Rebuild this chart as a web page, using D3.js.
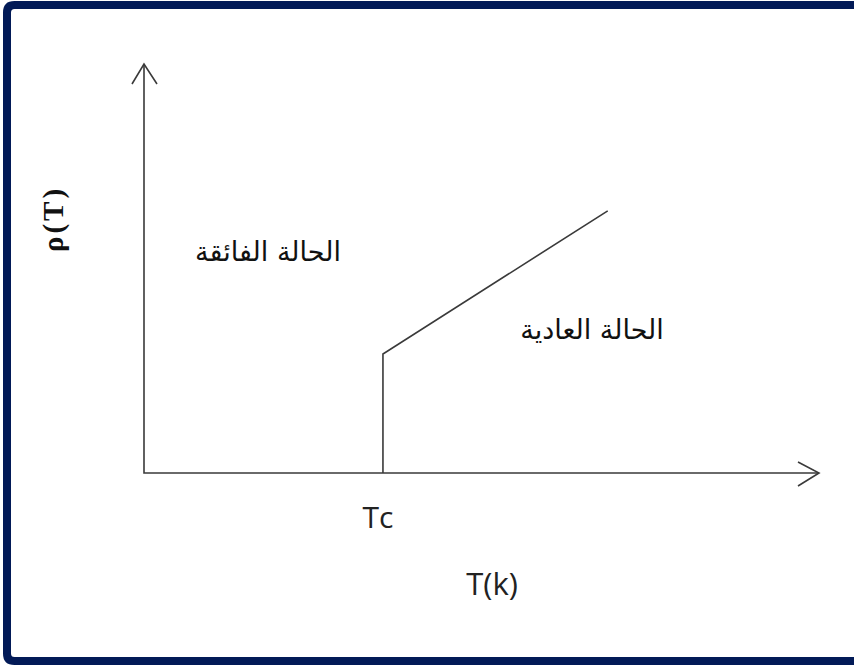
<!DOCTYPE html>
<html>
<head>
<meta charset="utf-8">
<script src="https://cdn.jsdelivr.net/npm/d3@7"></script>
<style>
  html, body { margin: 0; background: #fff; overflow: hidden; }
  #vis { width: 854px; height: 668px; }
</style>
</head>
<body>
<div id="vis"></div>
<script>
// curve rho(T): vertical jump at Tc then linear rise
const temperatura = [3.54, 3.54, 6.87];
const resistividade = [0, 2.91, 6.41];
const rotuloTc = "Tc";
const tc = 3.54;
const rotuloX = "T(k)";
const rotuloY = "ρ(T)";
const rotuloSupercondutor = "الحالة الفائقة";
const rotuloNormal = "الحالة العادية";

const width = 854, height = 668;
const margins = { top: 64, right: 35, bottom: 195, left: 144 };

const svg = d3.select("#vis").append("svg")
  .attr("width", width)
  .attr("height", height)
  .style("display", "block");

// moldura: topo, esquerda e base (lado direito cortado no original)
const corMoldura = "#021a57";
svg.append("line").attr("x1", 14).attr("x2", width).attr("y1", 5).attr("y2", 5)
  .attr("stroke", corMoldura).attr("stroke-width", 8);
svg.append("line").attr("x1", 7).attr("x2", 7).attr("y1", 12).attr("y2", 654)
  .attr("stroke", corMoldura).attr("stroke-width", 8);
svg.append("line").attr("x1", 14).attr("x2", width).attr("y1", 661).attr("y2", 661)
  .attr("stroke", corMoldura).attr("stroke-width", 8);
svg.append("path").attr("d", "M7,12.5Q7,5 14.5,5")
  .attr("fill", "none").attr("stroke", corMoldura).attr("stroke-width", 8);
svg.append("path").attr("d", "M7,653.5Q7,661 14.5,661")
  .attr("fill", "none").attr("stroke", corMoldura).attr("stroke-width", 8);

// escalas
const xScale = d3.scaleLinear().domain([0, 10]).range([margins.left, width - margins.right]);
const yScale = d3.scaleLinear().domain([0, 10]).range([height - margins.bottom, margins.top]);

const cor = "#3a3a3a";

// eixos com setas
const x0 = xScale(0), y0 = yScale(0);
const xMax = xScale(10), yMax = yScale(10);

svg.append("path")
  .attr("d", `M${x0},${yMax}V${y0}H${xMax}`)
  .attr("fill", "none").attr("stroke", cor).attr("stroke-width", 1.6);

svg.append("path")
  .attr("d", `M${x0 - 12},${yMax + 20}L${x0},${yMax}L${x0 + 13},${yMax + 20}`)
  .attr("fill", "none").attr("stroke", cor).attr("stroke-width", 1.6);

svg.append("path")
  .attr("d", `M${xMax - 21},${y0 - 11}L${xMax},${y0}L${xMax - 21},${y0 + 13}`)
  .attr("fill", "none").attr("stroke", cor).attr("stroke-width", 1.6);

// curva
const line = d3.line()
  .x((d, i) => xScale(temperatura[i]))
  .y(d => yScale(d));

svg.append("path")
  .datum(resistividade)
  .attr("fill", "none")
  .attr("stroke", cor)
  .attr("stroke-width", 1.6)
  .attr("d", line);

// textos
svg.append("text")
  .attr("x", xScale(tc) - 5)
  .attr("y", 528)
  .attr("text-anchor", "middle")
  .attr("font-family", "'Open Sans', sans-serif")
  .attr("font-size", "30px")
  .attr("fill", "#222")
  .text(rotuloTc);

svg.append("text")
  .attr("x", 492)
  .attr("y", 595)
  .attr("text-anchor", "middle")
  .attr("font-family", "'Open Sans', sans-serif")
  .attr("font-size", "31px")
  .attr("fill", "#222")
  .text(rotuloX);

svg.append("text")
  .attr("transform", "translate(63,219) rotate(-90)")
  .attr("text-anchor", "middle")
  .attr("font-family", "'Liberation Serif', serif")
  .attr("font-weight", "bold")
  .attr("font-size", "29px")
  .attr("letter-spacing", "3px")
  .attr("fill", "#111")
  .text(rotuloY);

svg.append("text")
  .attr("x", 268)
  .attr("y", 261)
  .attr("text-anchor", "middle")
  .attr("direction", "rtl")
  .attr("font-family", "'DejaVu Sans', sans-serif")
  .attr("font-size", "27px")
  .attr("fill", "#111")
  .text(rotuloSupercondutor);

svg.append("text")
  .attr("x", 592)
  .attr("y", 339)
  .attr("text-anchor", "middle")
  .attr("direction", "rtl")
  .attr("font-family", "'DejaVu Sans', sans-serif")
  .attr("font-size", "27px")
  .attr("fill", "#111")
  .text(rotuloNormal);
</script>
</body>
</html>
